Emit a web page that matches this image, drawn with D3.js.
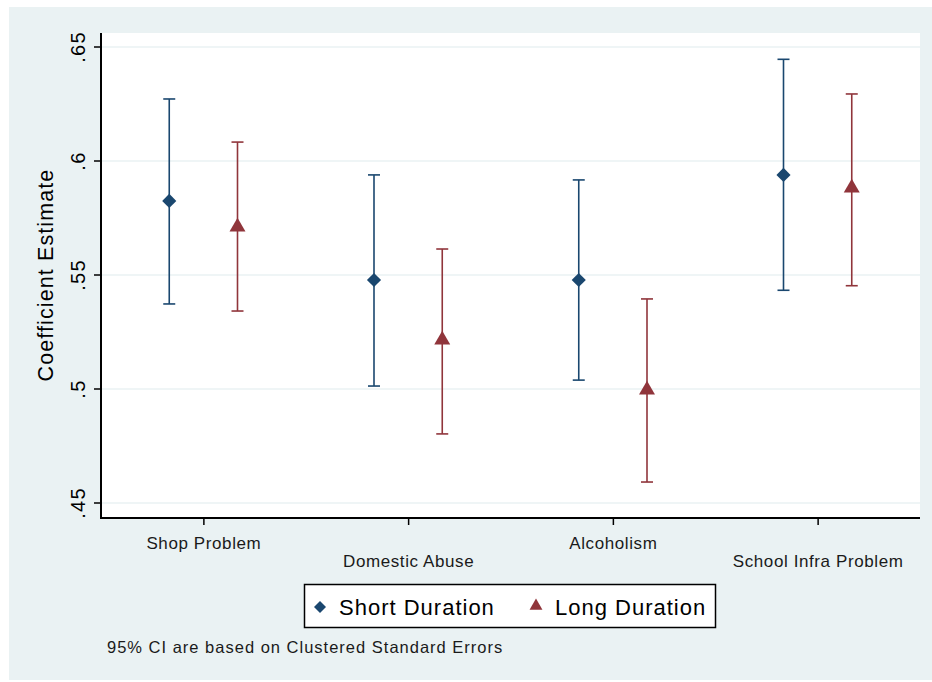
<!DOCTYPE html>
<html><head><meta charset="utf-8">
<script src="https://cdn.jsdelivr.net/npm/d3@7"></script>
<style>body{margin:0;background:#fff}svg{display:block;font-family:Arial,"Liberation Sans",sans-serif}</style>
</head><body><svg id="c" width="932" height="682"></svg>
<script>
const categories = ["Shop Problem","Domestic Abuse","Alcoholism","School Infra Problem"];
const shortEst = [0.5825,0.5478,0.5478,0.5939];
const shortLo  = [0.5373,0.5013,0.5039,0.5433];
const shortHi  = [0.6272,0.5939,0.5917,0.6446];
const longEst  = [0.5711,0.5215,0.4996,0.5882];
const longLo   = [0.5342,0.4803,0.4592,0.5453];
const longHi   = [0.6083,0.5614,0.5395,0.6294];
const yTicks = [0.45,0.5,0.55,0.6,0.65];
const yTickLabels = [".45",".5",".55",".6",".65"];
const seriesNames = ["Short Duration","Long Duration"];
const colors = ["#1a476f","#90353b"];

const svg = d3.select("#c");
svg.append("rect").attr("x",9).attr("y",7).attr("width",923).attr("height",673).attr("fill","#eaf2f3");
const L=101,R=920,T=33,B=518;
svg.append("rect").attr("x",L).attr("y",T).attr("width",R-L).attr("height",B-T).attr("fill","#fff");

const x = d3.scaleLinear().domain([0.5,4.5]).range([L,R]);
const y = d3.scaleLinear().domain([0.45,0.65]).range([503,47]);

// gridlines
svg.append("g").selectAll("line").data(yTicks).join("line")
  .attr("x1",L).attr("x2",R).attr("y1",d=>y(d)).attr("y2",d=>y(d))
  .attr("stroke","#eaf2f3").attr("stroke-width",1.5);

// y axis
const yAxis = d3.axisLeft(y).tickValues(yTicks).tickFormat((d,i)=>yTickLabels[i]).tickSize(7).tickSizeOuter(0);
const gy = svg.append("g").attr("transform",`translate(${L},0)`).call(yAxis);
gy.select(".domain").remove();
gy.append("line").attr("x1",0).attr("x2",0).attr("y1",T).attr("y2",B+1).attr("stroke","#000").attr("stroke-width",2);
gy.selectAll(".tick").attr("transform",null);
gy.selectAll(".tick line").attr("stroke","#000").attr("stroke-width",1.5).attr("y1",d=>y(d)).attr("y2",d=>y(d));
gy.selectAll(".tick text").each(function(d){
  d3.select(this).attr("x",null).attr("y",null).attr("dy","0")
   .attr("transform",`translate(-16,${y(d)})rotate(-90)`).attr("text-anchor","middle");
}).attr("fill","#000").attr("font-size",20).attr("letter-spacing",1.3);

// x axis
const xAxis = d3.axisBottom(x).tickValues([1,2,3,4]).tickFormat((d,i)=>categories[i]).tickSize(7).tickSizeOuter(0);
const gx = svg.append("g").attr("transform",`translate(0,${B})`).call(xAxis);
gx.select(".domain").remove();
gx.append("line").attr("x1",L).attr("x2",R).attr("y1",0).attr("y2",0).attr("stroke","#000").attr("stroke-width",2);
gx.selectAll(".tick line").attr("stroke","#000").attr("stroke-width",1.5);
gx.selectAll(".tick text").attr("fill","#1a1a1a").attr("font-size",17).attr("letter-spacing",0.6)
  .attr("y",(d,i)=> i%2===0 ? 19 : 37).attr("dy","0.71em");

// y title
svg.append("text").attr("transform","translate(53,275)rotate(-90)").attr("text-anchor","middle")
  .attr("font-size",21.5).attr("letter-spacing",1.1).attr("fill","#000").text("Coefficient Estimate");

// series
const off = [-1/6, 1/6];
const series = [
  {est:shortEst, lo:shortLo, hi:shortHi},
  {est:longEst, lo:longLo, hi:longHi}
];
series.forEach((s,si)=>{
  const g = svg.append("g");
  const data = categories.map((c,i)=>({xv:i+1+off[si], e:s.est[i], lo:s.lo[i], hi:s.hi[i]}));
  g.selectAll(".v").data(data).join("line").attr("x1",d=>x(d.xv)).attr("x2",d=>x(d.xv))
    .attr("y1",d=>y(d.lo)).attr("y2",d=>y(d.hi)).attr("stroke",colors[si]).attr("stroke-width",1.6);
  ["lo","hi"].forEach(k=>{
    g.selectAll(".c"+k).data(data).join("line").attr("x1",d=>x(d.xv)-6).attr("x2",d=>x(d.xv)+6)
      .attr("y1",d=>y(d[k])).attr("y2",d=>y(d[k])).attr("stroke",colors[si]).attr("stroke-width",1.6);
  });
  const sym = si===0 ? d3.symbol(d3.symbolSquare, 100) : d3.symbol(d3.symbolTriangle, 110);
  g.selectAll("path").data(data).join("path")
    .attr("transform",d=> si===0 ? `translate(${x(d.xv)},${y(d.e)})rotate(45)` : `translate(${x(d.xv)},${y(d.e)})`)
    .attr("d",sym).attr("fill",colors[si]);
});

// legend
const lg = svg.append("g");
lg.append("rect").attr("x",304.5).attr("y",584.5).attr("width",411).attr("height",43).attr("fill","#fff").attr("stroke","#000").attr("stroke-width",1.5);
lg.append("path").attr("transform","translate(320,607)rotate(45)").attr("d",d3.symbol(d3.symbolSquare,72)).attr("fill",colors[0]);
lg.append("path").attr("transform","translate(536,606)").attr("d",d3.symbol(d3.symbolTriangle,72)).attr("fill",colors[1]);
lg.append("text").attr("x",339).attr("y",615).attr("font-size",22).attr("letter-spacing",1.0).attr("fill","#000").text(seriesNames[0]);
lg.append("text").attr("x",555).attr("y",615).attr("font-size",22).attr("letter-spacing",1.0).attr("fill","#000").text(seriesNames[1]);

svg.append("text").attr("x",107).attr("y",653).attr("font-size",16.5).attr("letter-spacing",1.0).attr("fill","#1a1a1a")
  .text("95% CI are based on Clustered Standard Errors");
</script></body></html>
